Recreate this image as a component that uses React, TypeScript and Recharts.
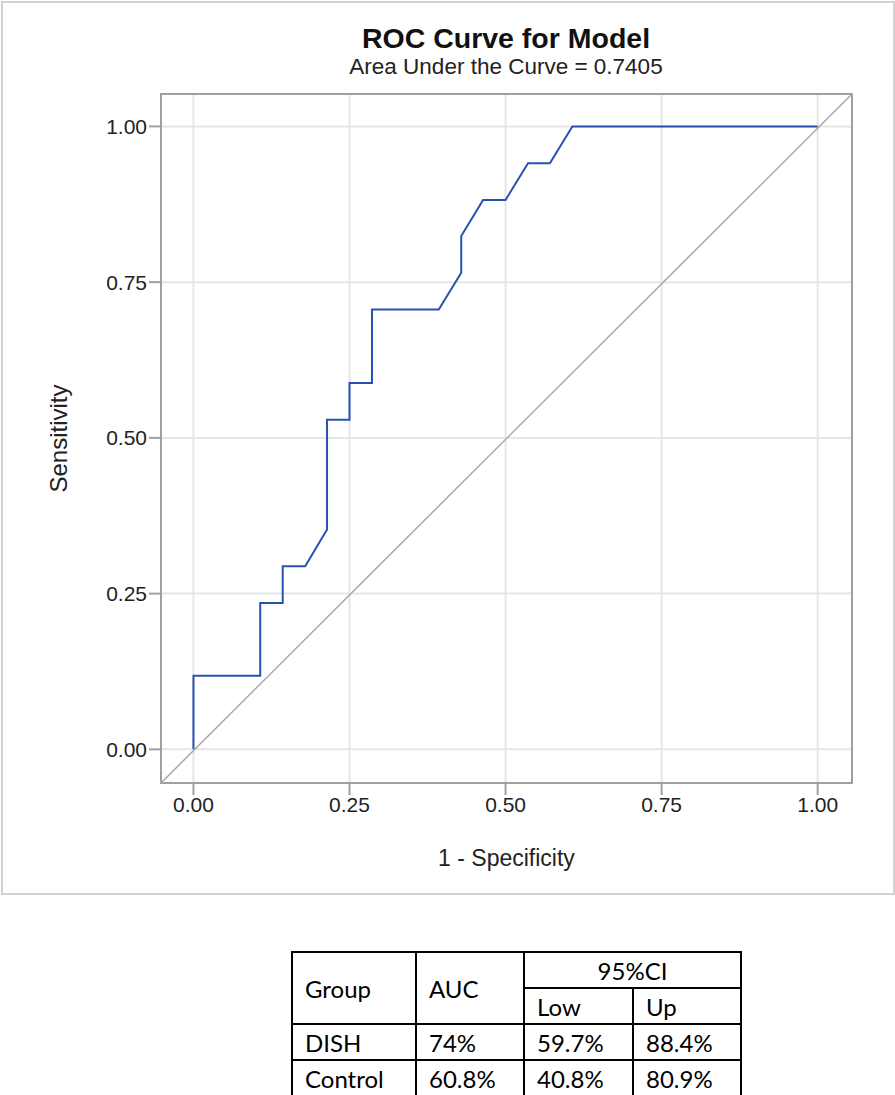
import {
  LineChart,
  Line,
  XAxis,
  YAxis,
  CartesianGrid,
  ReferenceLine,
  ReferenceArea,
  Label,
} from "recharts";

// ROC points (1 - specificity, sensitivity)
const fpr = [0, 0, 0.107, 0.107, 0.143, 0.143, 0.179, 0.214, 0.214, 0.25, 0.25, 0.286, 0.286, 0.393, 0.429, 0.429, 0.464, 0.5, 0.536, 0.571, 0.607, 1];
const tpr = [0, 0.118, 0.118, 0.235, 0.235, 0.294, 0.294, 0.353, 0.529, 0.529, 0.588, 0.588, 0.706, 0.706, 0.765, 0.824, 0.882, 0.882, 0.941, 0.941, 1, 1];
const axisTicks = [0, 0.25, 0.5, 0.75, 1];

const groups = ["DISH", "Control"];
const aucValues = ["74%", "60.8%"];
const ciLow = ["59.7%", "40.8%"];
const ciUp = ["88.4%", "80.9%"];

const xDomain = [-0.052, 1.055];
const yDomain = [-0.054, 1.052];

const sas = "'Liberation Sans', Arial, sans-serif";
const frameGray = "#9da1a6";

const rocData = fpr.map((x, i) => ({ x, y: tpr[i] }));

const cell = {
  border: "2px solid #000",
  padding: "0 0 0 12px",
  textAlign: "left" as const,
  fontWeight: "normal" as const,
};

const App = () => {
  return (
    <div style={{ position: "absolute", left: 0, top: 0, width: 895, height: 1095, background: "#fff" }}>
      <div
        style={{
          position: "absolute",
          left: 1,
          top: 1,
          width: 894,
          height: 894,
          boxSizing: "border-box",
          border: "2px solid #d2d2d2",
        }}
      />
      <div style={{ position: "absolute", left: 0, top: 0, width: 895, height: 895 }}>
        <LineChart width={895} height={895} margin={{ top: 94, right: 43, left: 0, bottom: 0 }}>
          <CartesianGrid stroke="#e6e6e6" strokeWidth={2} />
          <XAxis
            type="number"
            dataKey="x"
            domain={xDomain}
            allowDataOverflow
            ticks={axisTicks}
            tickFormatter={(v) => v.toFixed(2)}
            height={112}
            axisLine={false}
            tickSize={12}
            tickLine={{ stroke: frameGray, strokeWidth: 2 }}
            tick={{ fill: "#222", fontSize: 21, fontFamily: sas }}
          >
            <Label
              value="1 - Specificity"
              position="insideBottom"
              offset={29}
              style={{ fill: "#222", fontSize: 23, fontFamily: sas }}
            />
          </XAxis>
          <YAxis
            type="number"
            dataKey="y"
            domain={yDomain}
            allowDataOverflow
            ticks={axisTicks}
            tickFormatter={(v) => v.toFixed(2)}
            width={161}
            axisLine={false}
            tickSize={12}
            tickLine={{ stroke: frameGray, strokeWidth: 2 }}
            tick={{ fill: "#222", fontSize: 21, fontFamily: sas }}
          >
            <Label
              value="Sensitivity"
              angle={-90}
              position="insideLeft"
              offset={58}
              style={{ fill: "#222", fontSize: 24, fontFamily: sas, textAnchor: "middle" }}
            />
          </YAxis>
          <ReferenceLine
            segment={[
              { x: xDomain[0], y: yDomain[0] },
              { x: xDomain[1], y: yDomain[1] },
            ]}
            stroke="#a8a8a8"
            strokeWidth={1.5}
            ifOverflow="visible"
          />
          <Line
            data={rocData}
            dataKey="y"
            type="linear"
            stroke="#2a50b0"
            strokeWidth={2}
            dot={false}
            isAnimationActive={false}
          />
          <ReferenceArea
            x1={xDomain[0]}
            x2={xDomain[1]}
            y1={yDomain[0]}
            y2={yDomain[1]}
            fill="none"
            stroke={frameGray}
            strokeWidth={2}
            ifOverflow="visible"
          />
        </LineChart>
      </div>
      <div
        style={{
          position: "absolute",
          left: 0,
          width: 1012,
          top: 21,
          textAlign: "center",
          fontFamily: sas,
          fontSize: 28.5,
          fontWeight: "bold",
          color: "#111",
          lineHeight: "34px",
        }}
      >
        ROC Curve for Model
      </div>
      <div
        style={{
          position: "absolute",
          left: 0,
          width: 1012,
          top: 54,
          textAlign: "center",
          fontFamily: sas,
          fontSize: 22.5,
          color: "#222",
          lineHeight: "26px",
        }}
      >
        Area Under the Curve = 0.7405
      </div>
      <table
        style={{
          position: "absolute",
          left: 291,
          top: 951,
          width: 449,
          height: 143,
          borderCollapse: "collapse",
          border: "2px solid #000",
          fontFamily: "Lato, 'Open Sans', sans-serif",
          fontSize: 24,
          color: "#000",
          tableLayout: "fixed",
        }}
      >
        <colgroup>
          <col style={{ width: 124 }} />
          <col style={{ width: 108 }} />
          <col style={{ width: 109 }} />
          <col style={{ width: 108 }} />
        </colgroup>
        <tbody>
          <tr style={{ height: 36 }}>
            <th rowSpan={2} style={cell}>Group</th>
            <th rowSpan={2} style={cell}>AUC</th>
            <th colSpan={2} style={{ ...cell, textAlign: "center", padding: 0 }}>95%CI</th>
          </tr>
          <tr style={{ height: 36 }}>
            <th style={cell}>Low</th>
            <th style={cell}>Up</th>
          </tr>
          {groups.map((g, i) => (
            <tr key={g} style={{ height: 36 }}>
              <td style={cell}>{g}</td>
              <td style={cell}>{aucValues[i]}</td>
              <td style={cell}>{ciLow[i]}</td>
              <td style={cell}>{ciUp[i]}</td>
            </tr>
          ))}
        </tbody>
      </table>
    </div>
  );
};

export default App;
